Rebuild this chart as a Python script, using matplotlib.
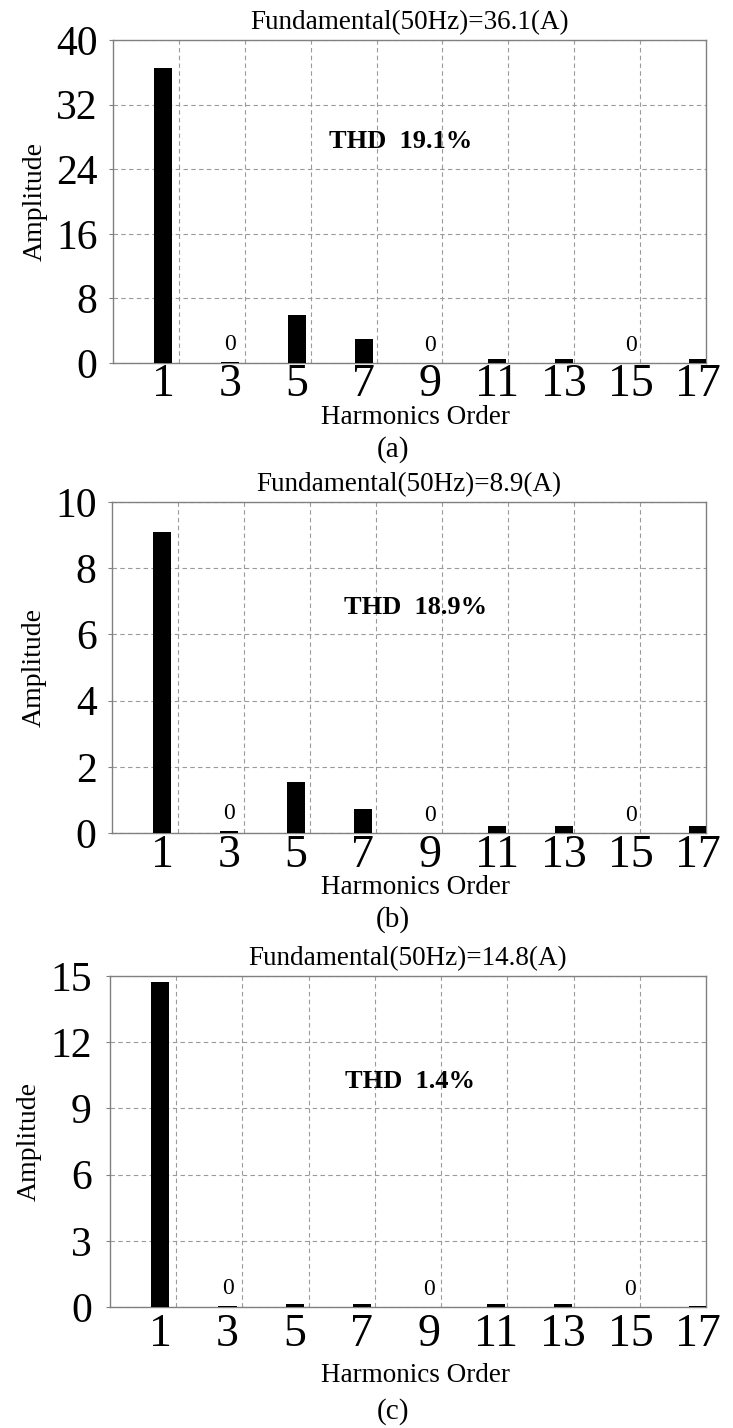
"""Harmonic spectra of the three current waveforms, panels (a)-(c)."""

import matplotlib

matplotlib.use("Agg")

import matplotlib.pyplot as plt
import numpy as np

plt.rcParams["font.family"] = ["Liberation Serif", "DejaVu Serif"]

W, H = 733, 1428

ORDERS = [1, 3, 5, 7, 9, 11, 13, 15, 17]
ZERO_ORDERS = [3, 9, 15]

AMP_A = [36.5, 0.12, 5.9, 3.0, 0.0, 0.55, 0.55, 0.0, 0.55]
AMP_B = [9.08, 0.05, 1.53, 0.72, 0.0, 0.21, 0.21, 0.0, 0.21]
AMP_C = [14.75, 0.05, 0.13, 0.13, 0.0, 0.13, 0.13, 0.0, 0.05]

FUND = ["36.1", "8.9", "14.8"]
THD = ["19.1%", "18.9%", "1.4%"]
YTICKS = [[0, 8, 16, 24, 32, 40], [0, 2, 4, 6, 8, 10], [0, 3, 6, 9, 12, 15]]
CAPTIONS = ["(a)", "(b)", "(c)"]

# panel boxes in pixels: left, top, right, bottom
BOXES = [(113, 40, 706, 363), (112, 502, 706, 833), (110, 976, 706, 1307)]
THD_POS = [(401, 142), (416, 607), (410, 1081)]
XLABEL_Y = [417, 887, 1375]
CAPTION_Y = [450, 920, 1412]
XTICK_PAD = [0.5, 1, 5]
YTICK_PAD = [8, 8, 10]

GRID_KW = dict(color="#9a9a9a", linestyle=(0, (4, 3)), linewidth=0.8)


def fx(x):
    return x / W


def fy(y):
    return 1 - y / H


def draw_panel(fig, idx, amps):
    left, top, right, bottom = BOXES[idx]
    ax = fig.add_axes([fx(left), fy(bottom), (right - left) / W, (bottom - top) / H])
    x0, x1 = -0.5, 17.25
    ax.bar(ORDERS, amps, width=0.54, color="black", zorder=3)
    ax.set_xlim(x0, x1)
    ax.set_ylim(YTICKS[idx][0], YTICKS[idx][-1])

    ax.set_xticks(ORDERS)
    ax.set_xticklabels([str(o) for o in ORDERS], fontsize=33)
    ax.set_xticks(np.linspace(x0, x1, 10)[1:-1], minor=True)
    ax.set_yticks(YTICKS[idx])
    ax.set_yticklabels([str(v) for v in YTICKS[idx]], fontsize=30)
    ax.tick_params(axis="x", which="both", length=0, pad=XTICK_PAD[idx])
    ax.tick_params(axis="y", length=3, color="#808080", pad=YTICK_PAD[idx])

    ax.grid(axis="x", which="minor", **GRID_KW)
    ax.grid(axis="y", which="major", **GRID_KW)
    ax.set_axisbelow(True)
    for sp in ax.spines.values():
        sp.set_color("#808080")
        sp.set_linewidth(1.0)

    ax.set_title(f"Fundamental(50Hz)={FUND[idx]}(A)", fontsize=19.5, pad=8)
    ax.set_ylabel("Amplitude", fontsize=20, labelpad=6)

    for o, a in zip(ORDERS, amps):
        if o in ZERO_ORDERS:
            ax.annotate("0", (o, a), xytext=(0, 12.5), textcoords="offset points",
                        ha="center", va="center", fontsize=17)

    tx, ty = THD_POS[idx]
    fig.text(fx(tx), fy(ty), f"THD  {THD[idx]}", fontsize=19, fontweight="bold",
             ha="center", va="center")
    fig.text(fx(415), fy(XLABEL_Y[idx]), "Harmonics Order", fontsize=19.5,
             ha="center", va="center")
    fig.text(fx(393), fy(CAPTION_Y[idx]), CAPTIONS[idx], fontsize=21,
             ha="center", va="center")
    return ax


def main():
    fig = plt.figure(figsize=(W / 100, H / 100), dpi=100)
    for idx, amps in enumerate([AMP_A, AMP_B, AMP_C]):
        draw_panel(fig, idx, amps)
    fig.savefig("out.png", dpi=100)
    plt.close(fig)


if __name__ == "__main__":
    main()
